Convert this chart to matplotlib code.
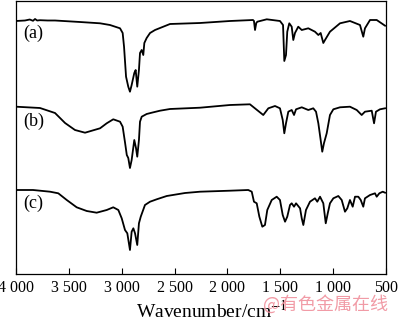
import matplotlib
matplotlib.use("Agg")
import matplotlib.pyplot as plt

# Wavenumber (cm^-1) and transmittance (arbitrary units, offset traces)
wn_a = [4000, 3915, 3870, 3839, 3820, 3800, 3773, 3700, 3631, 3395, 3205, 3111, 3016, 2991, 2978,
        2959, 2938, 2922, 2906, 2881, 2868, 2853, 2837, 2827, 2811, 2796, 2786, 2764,
        2732, 2685, 2607, 2543, 2259, 1976, 1758, 1749, 1739, 1727, 1717, 1628, 1503, 1474,
        1462, 1446, 1434, 1415, 1392, 1377, 1361, 1330, 1297, 1235, 1172, 1140, 1118,
        1093, 1077, 1030, 935, 841, 746, 715, 699, 651, 588, 509]
t_a = [253, 253.5, 254.5, 253.2, 255, 253.5, 253.8, 253.5, 253.5, 252, 250.7, 249, 245.7, 241, 227.3,
       197.3, 187.3, 182.3, 189, 201, 204, 187.3, 204, 221, 224, 219, 231, 236,
       241, 244, 247.3, 250, 251, 253, 254, 253, 244, 251, 252.3, 254.7, 253, 249,
       213, 219, 242.3, 250.7, 247.3, 234, 241, 247.3, 244, 245.7, 242.3, 239, 241,
       231, 234, 242.3, 250.7, 253, 249, 237.3, 245.7, 254, 254, 248.3]

wn_b = [4000, 3773, 3631, 3536, 3442, 3347, 3205, 3142, 3080, 3016, 2991, 2968, 2952, 2938,
        2922, 2906, 2881, 2865, 2853, 2837, 2827, 2811, 2764, 2716, 2638, 2543, 2259,
        1976, 1787, 1740, 1661, 1613, 1550, 1503, 1477, 1462, 1446, 1424, 1392, 1370,
        1351, 1297, 1235, 1188, 1162, 1140, 1118, 1103, 1087, 1061, 1030, 998, 935, 841,
        777, 730, 699, 635, 613, 595, 557, 509]
t_b = [167.3, 166, 161, 151, 144, 141.3, 145.7, 150.7, 154.7, 152.3, 147.3, 131, 119, 116,
       106, 114, 134, 126, 117.3, 134, 152.3, 157.3, 160, 161.3, 163.3, 165, 166.3,
       169, 169.7, 165.7, 159, 165.7, 168, 165.7, 154, 140.7, 150.7, 162.3, 164, 159,
       164.7, 166.7, 164, 165.7, 162.3, 150.7, 134, 122.3, 130.7, 140.7, 159, 164.7, 166.7, 167.3,
       164, 159, 162.3, 163.3, 150.7, 162.3, 164.7, 165.7]

wn_c = [4000, 3839, 3678, 3600, 3520, 3426, 3331, 3237, 3142, 3080, 3032, 3000, 2969, 2947,
        2922, 2906, 2890, 2874, 2853, 2837, 2820, 2780, 2732, 2669, 2574, 2401, 2259,
        1976, 1803, 1770, 1749, 1723, 1698, 1670, 1645, 1623, 1581, 1534, 1503, 1477,
        1455, 1434, 1408, 1392, 1370, 1351, 1313, 1297, 1282, 1257, 1219, 1172, 1150,
        1124, 1093, 1070, 1051, 1030, 998, 951, 919, 888, 866, 841, 815, 793, 762, 739,
        715, 699, 651, 604, 588, 563, 531, 509]
t_c = [84, 84, 82.3, 80.7, 74, 66.7, 63, 61.3, 64, 66.7, 64, 55.7, 44, 40.7,
       24, 42.3, 45.7, 40.7, 29, 50.7, 57.3, 69, 72.3, 74.7, 78, 81, 82.3,
       83.3, 84, 82.3, 72.3, 70.7, 57.3, 47.3, 49, 64, 74, 77.3, 74, 59,
       52.3, 57.3, 69, 70.7, 67.3, 70.7, 65.7, 55.7, 49, 64, 72.3, 75.7, 72.3,
       77.3, 70.7, 50.7, 60.7, 70.7, 75.7, 78, 74, 62.3, 65.7, 74, 67.3, 77.3, 77.3, 74,
       67.3, 75.7, 79, 80.7, 77.3, 80.7, 82.3, 81.3]

labels = ["(a)", "(b)", "(c)"]
label_y = [241, 153, 71]
xticks = [4000, 3500, 3000, 2500, 2000, 1500, 1000, 500]
xticklabels = ["4 000", "3 500", "3 000", "2 500", "2 000", "1 500", "1 000", "500"]

plt.rcParams["font.family"] = ["Liberation Serif", "DejaVu Serif"]
plt.rcParams["mathtext.fontset"] = "stix"

fig = plt.figure(figsize=(4.0, 3.21), dpi=100)
ax = fig.add_axes([16 / 400, 1 - 274 / 321, 370 / 400, 273 / 321])

for wn, t in [(wn_a, t_a), (wn_b, t_b), (wn_c, t_c)]:
    ax.plot(wn, t, color="black", lw=1.3)

ax.set_xlim(4000, 500)
ax.set_ylim(0, 273)
ax.set_yticks([])
ax.set_xticks(xticks)
ax.set_xticklabels(xticklabels)
ax.tick_params(axis="x", direction="in", length=4, width=0.8, labelsize=11.5, pad=4)
for sp in ax.spines.values():
    sp.set_linewidth(0.9)

for lab, ly in zip(labels, label_y):
    ax.text(3930, ly, lab, fontsize=13, ha="left", va="center")

fig.text(212 / 400, 1 - 318 / 321, "Wavenumber/cm$^{-1}$", fontsize=14,
         ha="center", va="baseline")
fig.text(325 / 400, 1 - 304 / 321, "@有色金属在线", fontsize=13, color="#f0909c",
         ha="center", va="center", family=["Noto Sans CJK SC", "DejaVu Sans"], alpha=0.9)

fig.savefig("out.png", dpi=100)
